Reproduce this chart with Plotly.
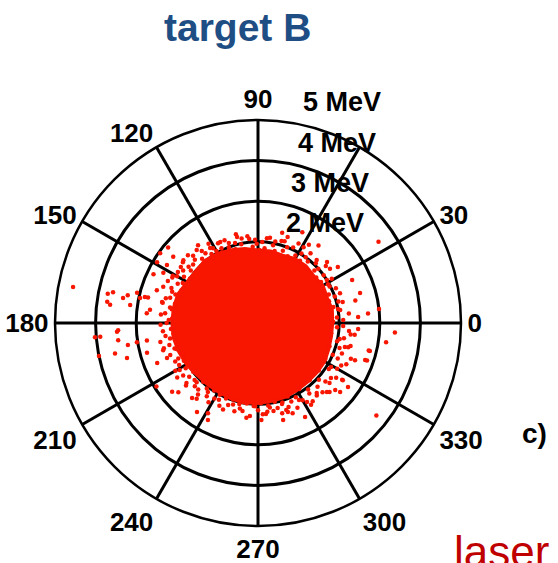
import plotly.graph_objects as go

# ---- data (angle in degrees, energy in MeV) ----
core_theta = [0, 10, 20, 30, 40, 50, 60, 70, 80, 90, 100, 110, 120, 130, 140, 150, 160, 170,
              180, 190, 200, 210, 220, 230, 240, 250, 260, 270, 280, 290, 300, 310, 320, 330, 340, 350]
core_r = [1.84, 1.86, 1.82, 1.85, 1.80, 1.84, 1.83, 1.78, 1.80, 1.80, 1.86, 1.92, 1.98, 2.02, 2.00, 2.02, 2.10, 2.12,
          2.12, 2.12, 2.08, 2.04, 1.98, 1.96, 1.96, 1.98, 2.00, 1.98, 1.96, 1.95, 1.92, 1.90, 1.90, 1.90, 1.86, 1.84]

edge_theta = [1, 4, 7, 9, 12, 14, 17, 19, 22, 24, 26, 29, 31, 33, 36, 38, 40, 43, 46, 48, 51, 53, 56, 58,
              61, 63, 66, 69, 71, 74, 77, 79, 82, 85, 87, 89, 92, 94, 97, 99, 102, 104, 107, 110, 112, 115,
              117, 120, 122, 125, 127, 130, 132, 135, 137, 140, 142, 145, 147, 150, 152, 155, 157, 160, 162,
              165, 167, 170, 172, 175, 177, 180, 182, 185, 187, 190, 192, 195, 197, 200, 202, 205, 207, 210,
              212, 215, 217, 220, 222, 225, 227, 230, 232, 235, 237, 240, 242, 245, 247, 250, 252, 255, 257,
              260, 262, 265, 267, 270, 272, 275, 277, 280, 282, 285, 287, 290, 292, 295, 297, 300, 302, 305,
              307, 310, 312, 315, 317, 320, 322, 325, 327, 330, 332, 335, 337, 340, 342, 345, 347, 350, 352,
              355, 357]
edge_r = [1.85, 1.95, 1.82, 2.05, 1.90, 2.15, 1.83, 2.00, 1.88, 2.10, 1.80, 1.97, 2.12, 1.85, 2.00, 1.82,
          2.18, 1.90, 2.05, 1.80, 1.95, 2.15, 1.85, 2.02, 1.90, 2.20, 1.80, 2.00, 1.88, 2.10, 1.82, 1.95,
          2.12, 1.85, 2.00, 1.80, 2.05, 1.88, 2.15, 1.82, 1.98, 2.25, 1.90, 2.10, 1.85, 2.20, 1.95, 2.05,
          2.30, 1.95, 2.15, 2.35, 2.00, 2.20, 1.95, 2.40, 2.10, 2.25, 2.00, 2.30, 2.10, 2.45, 2.05, 2.25,
          2.00, 2.35, 2.10, 2.20, 2.05, 2.40, 2.12, 2.25, 2.05, 2.35, 2.10, 2.20, 2.05, 2.40, 2.15, 2.30,
          2.00, 2.25, 2.05, 2.35, 2.10, 2.25, 2.00, 2.30, 2.10, 2.20, 1.98, 2.30, 2.05, 2.20, 1.98, 2.15,
          2.00, 2.25, 2.02, 2.15, 1.98, 2.25, 2.05, 2.20, 2.00, 2.30, 2.05, 2.15, 1.98, 2.25, 2.05, 2.20,
          1.98, 2.30, 2.05, 2.20, 1.95, 2.30, 2.05, 2.20, 1.92, 2.35, 2.05, 2.25, 1.90, 2.40, 2.05, 2.30,
          1.90, 2.35, 2.08, 2.25, 1.88, 2.40, 2.00, 2.20, 1.85, 2.30, 2.00, 2.15, 1.82, 2.25, 1.95]

band_theta = [2, 6, 10, 15, 20, 27, 32, 37, 42, 47, 54, 59, 65, 72, 78, 84, 91, 96, 101, 106, 111,
              116, 121, 124, 128, 131, 134, 138, 141, 144, 148, 151, 154, 158, 161, 164, 168, 171, 174,
              178, 181, 184, 188, 191, 194, 198, 201, 204, 208, 211, 214, 218, 221, 224, 228, 231, 234,
              238, 243, 248, 253, 258, 263, 268, 273, 278, 283, 288, 293, 298, 303, 306, 309, 313, 316,
              319, 323, 326, 329, 333, 336, 339, 343, 346, 349, 353, 358]
band_r = [2.10, 2.25, 2.00, 2.05, 2.15, 1.98, 2.00, 2.22, 2.00, 2.12, 2.00, 2.18, 2.05, 2.12, 2.05,
          2.10, 1.95, 2.08, 2.12, 2.05, 2.00, 2.05, 2.15, 2.05, 2.25, 2.10, 2.30, 2.15, 2.20, 2.35, 2.15,
          2.40, 2.20, 2.30, 2.15, 2.25, 2.40, 2.15, 2.30, 2.20, 2.40, 2.15, 2.30, 2.45, 2.25, 2.10, 2.40,
          2.15, 2.20, 2.25, 2.40, 2.15, 2.35, 2.10, 2.20, 2.40, 2.10, 2.30, 2.12, 2.30, 2.10, 2.15, 2.35,
          2.05, 2.25, 2.10, 2.15, 2.25, 2.10, 2.15, 2.40, 2.15, 2.30, 2.15, 2.45, 2.20, 2.25, 2.50, 2.10,
          2.30, 2.15, 2.45, 2.10, 2.35, 2.05, 2.30, 2.10]

outer_theta = [3.4, 5, 6.6, 13, 16.4, 24.6, 34, 35, 41.5, 52, 57, 64, 71, 75, 103.7, 112, 116.6, 122.6,
               127.6, 136, 140, 141, 142, 144.5, 147.5, 147.5, 149, 152, 152, 155, 159, 162, 166, 167, 167,
               167.6, 168, 168, 169, 169, 169.5, 172, 172, 173, 173, 175, 168, 183, 183.6, 185, 185, 187,
               189, 189, 189.6, 191.7, 192, 195, 195, 196, 201.6, 212, 218.7, 221, 228.7, 235.6, 241, 242.7,
               272, 276, 284.5, 286.5, 288.6, 291, 296.6, 301.8, 313, 319, 320, 322, 324.6, 326, 339, 341,
               341, 344.6, 346, 346, 351.5, 353, 356, 356.6]
outer_r = [2.47, 2.72, 3.00, 2.46, 2.62, 2.55, 3.58, 2.40, 2.27, 2.42, 2.30, 2.49, 2.24, 2.30, 2.18, 2.20,
           2.20, 2.19, 2.42, 2.40, 2.89, 2.38, 2.65, 2.96, 2.66, 2.34, 2.90, 2.39, 2.64, 2.84, 2.50, 2.62,
           3.07, 2.86, 2.78, 2.42, 3.28, 3.65, 3.77, 4.64, 3.38, 3.18, 3.75, 2.68, 3.67, 2.75, 2.97, 3.45,
           3.48, 3.90, 4.03, 3.47, 2.77, 3.02, 3.25, 4.00, 3.60, 2.83, 3.34, 2.43, 2.67, 2.95, 2.71, 2.60,
           2.46, 2.66, 2.54, 2.69, 2.39, 2.20, 2.47, 2.08, 2.31, 2.38, 2.59, 2.29, 2.33, 2.52, 2.64, 3.70,
           2.72, 2.52, 2.56, 2.79, 2.84, 2.22, 2.84, 2.81, 3.19, 2.40, 3.38, 2.47]

angle_ticks = [0, 30, 60, 90, 120, 150, 180, 210, 240, 270, 300, 330]
angle_labels = ["0", "30", "", "90", "120", "150", "180", "210", "240", "270", "300", "330"]
ring_values = [1, 2, 3, 4]
ring_labels = ["5 MeV", "4 MeV", "3 MeV", "2 MeV"]

RED = "#f81600"
FONT = "Arial, Liberation Sans, sans-serif"

fig = go.Figure()
fig.add_trace(go.Scatterpolar(theta=core_theta + [core_theta[0]], r=core_r + [core_r[0]],
                              mode="lines", fill="toself", fillcolor=RED,
                              line=dict(color=RED, width=3), hoverinfo="skip"))
for th, rr in [(edge_theta, edge_r), (band_theta, band_r), (outer_theta, outer_r)]:
    fig.add_trace(go.Scatterpolar(theta=th, r=rr, mode="markers",
                                  marker=dict(color=RED, size=4.5, symbol="circle")))

W, H = 558, 563
cx, cy, R = 258, 323, 203
fig.update_layout(
    width=W, height=H, margin=dict(l=0, r=0, t=0, b=0),
    paper_bgcolor="white", showlegend=False,
    polar=dict(
        domain=dict(x=[(cx - R) / W, (cx + R) / W], y=[1 - (cy + R) / H, 1 - (cy - R) / H]),
        bgcolor="white",
        radialaxis=dict(range=[0, 5], tickvals=ring_values, showticklabels=False,
                        ticks="", showline=False, gridcolor="black", gridwidth=2.5),
        angularaxis=dict(direction="counterclockwise", rotation=0, tickvals=angle_ticks,
                         ticktext=angle_labels, ticks="", showline=True, linecolor="black",
                         linewidth=2.5, gridcolor="black", gridwidth=2.5,
                         tickfont=dict(family=FONT, size=26, color="black", weight="bold")),
    ),
)

# ring labels
ring_pos = [(342, 102), (337, 143), (330, 183), (325, 223)]
for txt, (px, py) in zip(ring_labels, ring_pos):
    fig.add_annotation(x=px / W, y=1 - py / H, xref="paper", yref="paper", text=txt,
                       showarrow=False, xanchor="center", yanchor="middle",
                       font=dict(family=FONT, size=27, color="black", weight="bold"))

fig.add_annotation(x=237 / W, y=1 - 27 / H, xref="paper", yref="paper", text="target B",
                   showarrow=False, xanchor="center", yanchor="middle",
                   font=dict(family=FONT, size=39, color="#1f4e84", weight="bold"))
fig.add_annotation(x=534 / W, y=1 - 433 / H, xref="paper", yref="paper", text="c)",
                   showarrow=False, xanchor="center", yanchor="middle",
                   font=dict(family=FONT, size=28, color="black", weight="bold"))
fig.add_annotation(x=452 / W, y=1 - 551 / H, xref="paper", yref="paper", text="laser",
                   showarrow=False, xanchor="left", yanchor="middle",
                   font=dict(family=FONT, size=44, color="#c00000"))

fig.write_html("out.html")
